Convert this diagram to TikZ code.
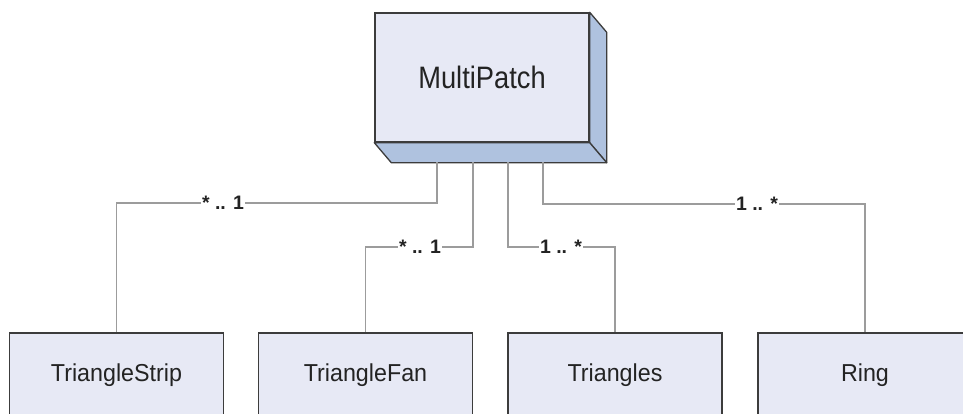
\documentclass[tikz,border=0pt]{standalone}
\usepackage{fontspec}
\setmainfont{Liberation Sans}
\newfontfamily\titlefont[FakeStretch=0.88]{Liberation Sans}
\newfontfamily\boxfont[FakeStretch=0.95]{Liberation Sans}
\usetikzlibrary{calc}
\definecolor{facefill}{HTML}{E7E9F5}
\definecolor{sidefill}{HTML}{AFC2DF}
\definecolor{edgecol}{HTML}{3C3C3C}
\definecolor{linkcol}{HTML}{9C9C9C}
\definecolor{txtcol}{HTML}{232323}
\tikzset{
  classbox/.style={draw=edgecol, line width=1.3pt, fill=facefill, text=txtcol,
    minimum width=214pt, minimum height=84pt, inner sep=0pt,
    font=\boxfont\fontsize{24.5}{28}\selectfont},
  mainbox/.style={draw=edgecol, line width=1.4pt, fill=facefill, text=txtcol,
    minimum width=214pt, minimum height=129pt, inner sep=0pt,
    font=\titlefont\fontsize{31}{36}\selectfont},
  slab/.style={draw=edgecol, line width=1.3pt, fill=sidefill, line join=round},
  link/.style={draw=linkcol, line width=1.5pt},
  mult/.style={fill=white, text=txtcol, inner sep=1.5pt,
    font=\bfseries\fontsize{19.5}{22}\selectfont}
}
\begin{document}
\begin{tikzpicture}[x=1pt,y=-1pt]
\useasboundingbox (0,0) rectangle (963,414);
\clip (0,0) rectangle (963,414);

% central class drawn as a raised block
\node[mainbox] (mp) at (482,77.5) {MultiPatch};
\path[slab] (mp.north east) -- ++(17,20) -- ($(mp.south east)+(17,20)$)
  -- (mp.south east) -- cycle;
\path[slab] (mp.south west) -- ++(17,20) -- ($(mp.south east)+(17,20)$)
  -- (mp.south east) -- cycle;

% attachment points on the underside of the block
\coordinate (p1) at (437,162);
\coordinate (p2) at (473,162);
\coordinate (p3) at (508,162);
\coordinate (p4) at (543,162);

% component classes along the bottom
\node[classbox] (strip) at (116.5,375) {TriangleStrip};
\node[classbox] (fan)   at (365.5,375) {TriangleFan};
\node[classbox] (tris)  at (615,375)   {Triangles};
\node[classbox] (ring)  at (865,375)   {Ring};

% associations
\draw[link] (p1) -- ++(0,41) -| (strip.north);
\draw[link] (p2) -- ++(0,85) -| (fan.north);
\draw[link] (p3) -- ++(0,85) -| (tris.north);
\draw[link] (p4) -- ++(0,42) -| (ring.north);

% multiplicities
\node[mult] (m1) at (223,203) {* .. 1};
\node[mult] (m2) at (420,247) {* .. 1};
\node[mult] (m3) at (561,247) {1 .. *};
\node[mult] (m4) at (757,204) {1 .. *};
\end{tikzpicture}
\end{document}
